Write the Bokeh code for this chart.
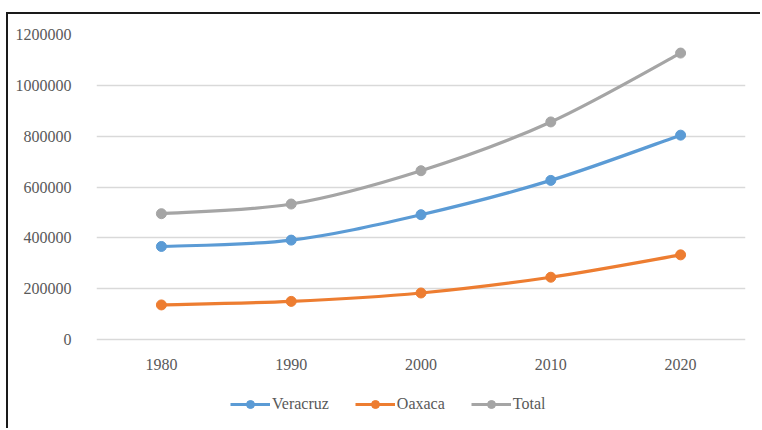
from bokeh.plotting import figure
from bokeh.models import Range1d, FixedTicker, Legend, LegendItem, LinearAxis
from bokeh.embed import file_html
from bokeh.resources import INLINE

# Population by census year
years = ["1980", "1990", "2000", "2010", "2020"]
veracruz = [366000, 391000, 491000, 626000, 804000]
oaxaca = [136000, 150000, 183000, 245000, 333000]
total = [495000, 533000, 664000, 856000, 1127000]

y_ticks = [0, 200000, 400000, 600000, 800000, 1000000, 1200000]

series = [
    ("Veracruz", veracruz, "#5B9BD5"),
    ("Oaxaca", oaxaca, "#ED7D31"),
    ("Total", total, "#A5A5A5"),
]

FONT = "Liberation Serif"
TEXT = "#595959"

xs = list(range(1, len(years) + 1))

# The frame runs down past zero so the legend can sit inside it under the
# category labels; the value axis spans 0..1.2M over the upper 305 px.
PLOT_H = 305
EXTRA_H = 81
y_max = y_ticks[-1]
y_min = -EXTRA_H * y_max / PLOT_H

p = figure(
    width=754, height=416,
    x_range=Range1d(0.5, len(years) + 0.5),
    y_range=Range1d(y_min, y_max),
    output_backend="svg", toolbar_location=None,
    min_border_left=88, min_border_right=17,
    min_border_top=20, min_border_bottom=10,
    x_axis_location=None,
)
p.margin = (12, 0, 0, 6)
p.styles = {"border-left": "2px solid #1a1a1a", "border-top": "2px solid #1a1a1a"}
p.outline_line_color = None
p.background_fill_color = "white"
p.border_fill_color = "white"

# category axis pinned at zero
xaxis = LinearAxis(ticker=FixedTicker(ticks=xs), fixed_location=0)
xaxis.major_label_overrides = {x: y for x, y in zip(xs, years)}
p.add_layout(xaxis, "below")

p.yaxis.ticker = FixedTicker(ticks=y_ticks)
p.yaxis.major_label_overrides = {t: str(t) for t in y_ticks}
for ax in (xaxis, p.yaxis[0]):
    ax.axis_line_color = None
    ax.major_tick_line_color = None
    ax.minor_tick_line_color = None
    ax.major_label_text_font = FONT
    ax.major_label_text_font_size = "16px"
    ax.major_label_text_color = TEXT
p.yaxis.major_label_standoff = 19
xaxis.major_label_standoff = 13

p.xgrid.grid_line_color = None
p.ygrid.grid_line_color = "#D9D9D9"
p.ygrid.grid_line_width = 1.3


def smooth_segments(vals):
    """Cubic Bezier control points for a smoothed line through the data."""
    n = len(vals)
    pts = list(zip(xs, vals))
    seg = dict(x0=[], y0=[], x1=[], y1=[], cx0=[], cy0=[], cx1=[], cy1=[])
    for i in range(n - 1):
        p0 = pts[i - 1] if i > 0 else pts[i]
        p1, p2 = pts[i], pts[i + 1]
        p3 = pts[i + 2] if i + 2 < n else pts[i + 1]
        seg["x0"].append(p1[0]); seg["y0"].append(p1[1])
        seg["x1"].append(p2[0]); seg["y1"].append(p2[1])
        seg["cx0"].append(p1[0] + (p2[0] - p0[0]) / 6)
        seg["cy0"].append(p1[1] + (p2[1] - p0[1]) / 6)
        seg["cx1"].append(p2[0] - (p3[0] - p1[0]) / 6)
        seg["cy1"].append(p2[1] - (p3[1] - p1[1]) / 6)
    return seg


items = []
for name, vals, color in series:
    seg = smooth_segments(vals)
    curve = p.bezier(
        x0=seg["x0"], y0=seg["y0"], x1=seg["x1"], y1=seg["y1"],
        cx0=seg["cx0"], cy0=seg["cy0"], cx1=seg["cx1"], cy1=seg["cy1"],
        line_color=color, line_width=3.2,
    )
    dots = p.scatter(xs, vals, size=10, marker="circle",
                     fill_color=color, line_color=color)
    items.append(LegendItem(label=name, renderers=[curve, dots], index=0))

legend = Legend(
    items=items, orientation="horizontal", location=(134, 6),
    glyph_width=40, glyph_height=20, label_standoff=2, spacing=26,
    padding=0, margin=0,
    label_text_font=FONT, label_text_font_size="16px", label_text_color=TEXT,
    border_line_color=None, background_fill_alpha=0,
)
p.add_layout(legend, "center")

open("out.html", "w").write(file_html(p, INLINE))
